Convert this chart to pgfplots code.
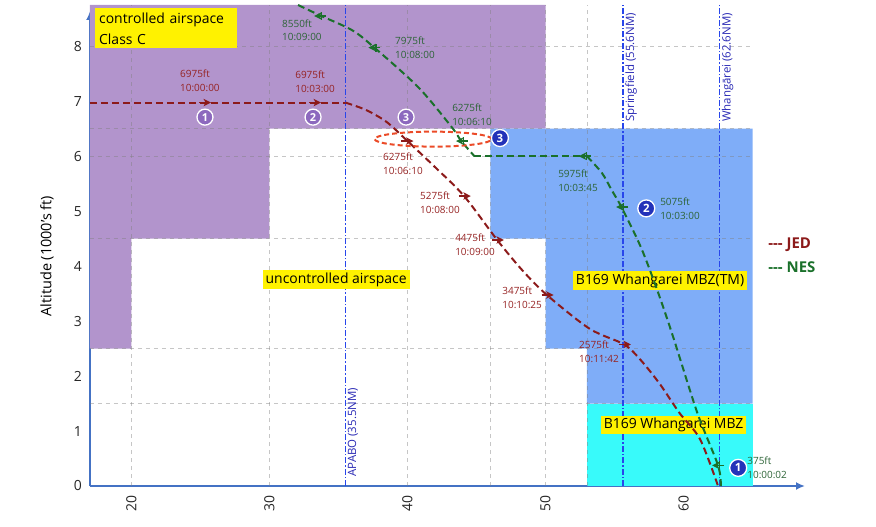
\documentclass[border=0pt]{standalone}
\usepackage{fontspec}
\setmainfont{Open Sans}
\usepackage{pgfplots}
\pgfplotsset{compat=1.18}
\usetikzlibrary{arrows.meta}
\definecolor{purp}{RGB}{178,148,204}
\definecolor{bluez}{RGB}{127,173,248}
\definecolor{cyanz}{RGB}{56,250,250}
\definecolor{jed}{RGB}{140,26,26}
\definecolor{nes}{RGB}{26,112,42}
\definecolor{nestext}{RGB}{45,100,55}
\definecolor{jedtext}{RGB}{150,35,35}
\definecolor{axblue}{RGB}{68,114,196}
\definecolor{vline}{RGB}{40,70,235}
\definecolor{vtext}{RGB}{40,40,180}
\definecolor{ellc}{RGB}{235,75,40}
\definecolor{circp}{RGB}{140,105,190}
\definecolor{circb}{RGB}{35,50,185}
\pgfdeclareplotmark{ra}{%
  \pgfsetlinewidth{1.4bp}%
  \pgfpathmoveto{\pgfqpoint{-6bp}{0bp}}\pgfpathlineto{\pgfqpoint{1bp}{0bp}}\pgfusepathqstroke
  \pgfpathmoveto{\pgfqpoint{6bp}{0bp}}\pgfpathlineto{\pgfqpoint{-1.5bp}{3.8bp}}\pgfpathlineto{\pgfqpoint{0.5bp}{0bp}}\pgfpathlineto{\pgfqpoint{-1.5bp}{-3.8bp}}\pgfpathclose\pgfusepathqfill}
\pgfdeclareplotmark{la}{%
  \pgfsetlinewidth{1.4bp}%
  \pgfpathmoveto{\pgfqpoint{6bp}{0bp}}\pgfpathlineto{\pgfqpoint{-1bp}{0bp}}\pgfusepathqstroke
  \pgfpathmoveto{\pgfqpoint{1.5bp}{-4bp}}\pgfpathlineto{\pgfqpoint{1.5bp}{4bp}}\pgfusepathqstroke
  \pgfpathmoveto{\pgfqpoint{-6bp}{0bp}}\pgfpathlineto{\pgfqpoint{1.5bp}{3.8bp}}\pgfpathlineto{\pgfqpoint{-0.5bp}{0bp}}\pgfpathlineto{\pgfqpoint{1.5bp}{-3.8bp}}\pgfpathclose\pgfusepathqfill}
\tikzset{
  lab/.style={font=\fontsize{10}{14}\selectfont, align=left, anchor=west, inner sep=0pt},
  gridl/.style={draw=gray, opacity=0.45, line width=0.8bp, dash pattern=on 4bp off 4bp},
  vl/.style={draw=vline, line width=1.4bp, dash pattern=on 6bp off 2bp on 1.5bp off 2bp},
  vlab/.style={rotate=90, anchor=north west, inner sep=1bp, text=vtext, font=\fontsize{11.5}{12}\selectfont},
  ybox/.style={fill=yellow, inner xsep=3bp, inner ysep=2.5bp, font=\fontsize{14}{14}\selectfont},
  pc/.style={circle, fill=circp, draw=white, line width=1.3bp, inner sep=0pt, minimum size=16bp, text=white, font=\bfseries\fontsize{11}{11}\selectfont},
  bc/.style={circle, fill=circb, draw=white, line width=1.3bp, inner sep=0pt, minimum size=17bp, text=white, font=\bfseries\fontsize{11.5}{11.5}\selectfont},
  jl/.style={jed, line width=2bp, dash pattern=on 7bp off 4bp},
  nl/.style={nes, line width=2bp, dash pattern=on 7bp off 4bp},
}
\begin{document}
\begin{tikzpicture}
\useasboundingbox (-90bp,-41bp) rectangle (786bp,486bp);
\begin{axis}[
  scale only axis, width=715bp, height=481bp,
  xmin=17, xmax=68.8, ymin=0, ymax=8.75,
  axis x line=bottom, axis y line=left,
  axis line style={draw=axblue, line width=2.2bp, -{Latex[length=9bp,width=8bp]}},
  y axis line style={shorten >=6bp},
  xtick={20,30,40,50,60}, ytick={0,1,2,3,4,5,6,7,8},
  major tick length=0pt,
  /pgf/number format/assume math mode=true,
  tick label style={font=\fontsize{14}{14}\selectfont, text=black!85},
  xticklabel style={rotate=90, anchor=east, inner xsep=9bp},
  yticklabel style={inner xsep=8bp},
  ylabel={Altitude (1000's ft)},
  ylabel style={font=\fontsize{14.5}{15}\selectfont, at={(axis description cs:-0.060,0.478)}, anchor=center},
  clip=false,
]
% airspace regions
\addplot[draw=none, fill=purp] coordinates {(17,2.5)(20,2.5)(20,4.5)(30,4.5)(30,6.5)(50,6.5)(50,8.75)(17,8.75)} -- cycle;
\addplot[draw=none, fill=bluez] coordinates {(46,4.5)(50,4.5)(50,2.5)(53,2.5)(53,1.5)(65,1.5)(65,6.5)(46,6.5)} -- cycle;
\addplot[draw=none, fill=cyanz] coordinates {(53,0)(65,0)(65,1.5)(53,1.5)} -- cycle;
% grid
\pgfplotsinvokeforeach{20,30,40,46,50,53}{\draw[gridl] (axis cs:#1,0) -- (axis cs:#1,8.75);}
\pgfplotsinvokeforeach{1.5,2.5,4.5,6,6.5,8}{\draw[gridl] (axis cs:17,#1) -- (axis cs:65,#1);}
% waypoint lines
\draw[vl] (axis cs:35.5,0) -- (axis cs:35.5,8.75);
\draw[vl] (axis cs:55.6,0) -- (axis cs:55.6,8.75);
\draw[vl] (axis cs:62.6,0) -- (axis cs:62.6,8.75);
\node[vlab] at (axis cs:35.6,0.15) {APABO (35.5NM)};
\node[vlab] at (axis cs:55.7,6.6) {Springfield (55.6NM)};
\node[vlab] at (axis cs:62.7,6.6) {Whangārei (62.6NM)};
% yellow boxes
\node[fill=yellow, anchor=north west, inner xsep=4bp, inner ysep=4bp, align=left, font=\fontsize{14}{21}\selectfont, text width=134bp] at (axis cs:17.36,8.69) {controlled airspace\\Class C};
\node[ybox] at (axis cs:34.83,3.75) {uncontrolled airspace};
\node[ybox] at (axis cs:58.3,3.73) {B169 Whangarei MBZ(TM)};
\node[ybox] at (axis cs:59.28,1.11) {B169 Whangarei MBZ};
% JED
\addplot[jl] coordinates {(17,6.975)(35.5,6.975)};
\addplot[jl, smooth] coordinates {(35.5,6.975)(37,6.84)(38.5,6.62)(40,6.275)(42,5.8)(44.1,5.275)(46.5,4.475)(48.3,3.93)(50.1,3.475)(53.2,2.86)(55.7,2.575)(56.9,2.29)(58.3,1.85)(59.7,1.33)(61.2,0.85)(62.5,0)};
% NES
\addplot[nl, smooth] coordinates {(32.07,8.75)(33.67,8.56)(36.0,8.29)(37.6,7.975)(40.8,7.25)(43.2,6.53)(43.9,6.275)(44.85,6.0)};
\addplot[nl] coordinates {(44.85,6)(53,6)};
\addplot[nl, smooth] coordinates {(53,6)(54.1,5.69)(54.8,5.38)(55.5,5.075)(56.9,4.35)(58.1,3.56)(59.25,2.71)(61.0,1.33)(62.5,0.375)(62.7,0)};
% markers
\addplot[jed, only marks, mark=ra] coordinates {(25.33,6.975)(33.3,6.975)(40,6.275)(44.15,5.275)(46.55,4.475)(50.15,3.475)(55.75,2.575)};
\addplot[nes, only marks, mark=la] coordinates {(33.67,8.55)(37.6,7.975)(43.95,6.275)(52.85,6.0)(55.55,5.075)(62.5,0.375)};
% labels
\node[lab, text=jedtext] at (axis cs:23.52,7.38) {6975ft\\10:00:00};
\node[lab, text=jedtext] at (axis cs:31.86,7.36) {6975ft\\10:03:00};
\node[lab, text=jedtext] at (axis cs:38.23,5.87) {6275ft\\10:06:10};
\node[lab, text=jedtext] at (axis cs:40.91,5.15) {5275ft\\10:08:00};
\node[lab, text=jedtext] at (axis cs:43.45,4.38) {4475ft\\10:09:00};
\node[lab, text=jedtext] at (axis cs:46.86,3.42) {3475ft\\10:10:25};
\node[lab, text=jedtext] at (axis cs:52.43,2.45) {2575ft\\10:11:42};
\node[lab, text=nestext] at (axis cs:30.91,8.29) {8550ft\\10:09:00};
\node[lab, text=nestext] at (axis cs:39.10,7.98) {7975ft\\10:08:00};
\node[lab, text=nestext] at (axis cs:43.23,6.75) {6275ft\\10:06:10};
\node[lab, text=nestext] at (axis cs:50.91,5.56) {5975ft\\10:03:45};
\node[lab, text=nestext] at (axis cs:58.30,5.05) {5075ft\\10:03:00};
\node[lab, text=nestext] at (axis cs:64.61,0.33) {375ft\\10:00:02};
% ellipse
\draw[ellc, line width=2bp, dash pattern=on 5bp off 3bp] (axis cs:41.86,6.31) ellipse [x radius=4.24, y radius=0.136];
% circled numbers
\node[pc] at (axis cs:25.33,6.71) {1};
\node[pc] at (axis cs:33.16,6.71) {2};
\node[pc] at (axis cs:39.9,6.71) {3};
\node[bc] at (axis cs:46.7,6.33) {3};
\node[bc] at (axis cs:57.3,5.05) {2};
\node[bc] at (axis cs:63.96,0.33) {1};
% legend
\node[anchor=west, inner sep=0pt, text=jed, font=\bfseries\fontsize{15}{15}\selectfont] at (axis cs:66.13,4.38) {{-}{-}{-} JED};
\node[anchor=west, inner sep=0pt, text=nes, font=\bfseries\fontsize{15}{15}\selectfont] at (axis cs:66.13,3.98) {{-}{-}{-} NES};
\end{axis}
\end{tikzpicture}
\end{document}
